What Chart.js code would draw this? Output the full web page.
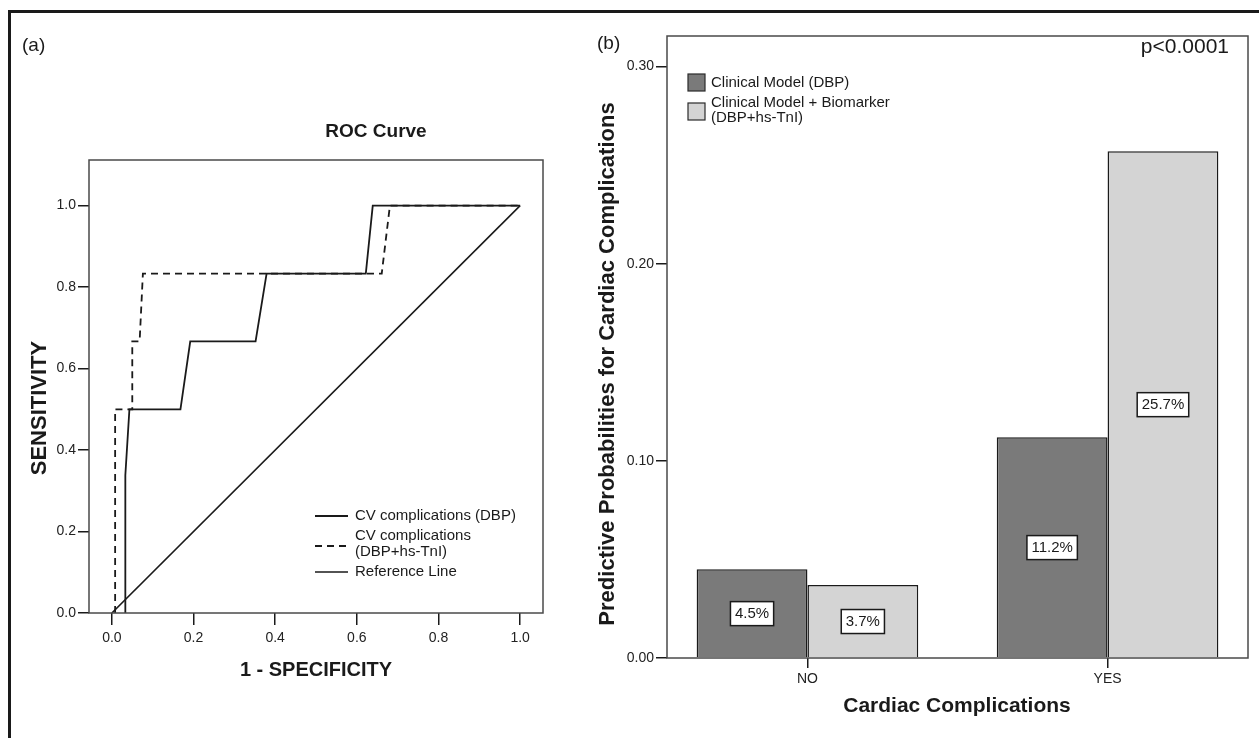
<!DOCTYPE html>
<html>
<head>
<meta charset="utf-8">
<title>ROC and predictive probabilities</title>
<script src="https://cdn.jsdelivr.net/npm/chart.js@4.4.1/dist/chart.umd.min.js"></script>
<style>
    html, body { margin: 0; padding: 0; background: #fff; }
    #wrap { position: relative; width: 1259px; height: 738px; overflow: hidden; }
    #frame {
        position: absolute; left: 8px; top: 10px; width: 1300px; height: 800px;
        border-top: 3px solid #1a1a1a; border-left: 3px solid #1a1a1a;
    }
    canvas { position: absolute; left: 0; top: 0; }
</style>
</head>
<body>
<div id="wrap">
    <div id="frame"></div>
    <canvas id="rocChart" width="1259" height="738" style="width:1259px;height:738px"></canvas>
    <canvas id="barChart" width="1259" height="738" style="width:1259px;height:738px"></canvas>
</div>
<script>
// ---- panel (a): ROC curve points ----
const dbpX = [0.033, 0.033, 0.043, 0.168, 0.192, 0.352, 0.379, 0.622, 0.639, 1.0];
const dbpY = [0.0, 0.338, 0.5, 0.5, 0.667, 0.667, 0.833, 0.833, 1.0, 1.0];
const tnIX = [0.008, 0.008, 0.05, 0.05, 0.068, 0.076, 0.661, 0.681, 1.0];
const tnIY = [0.0, 0.5, 0.5, 0.667, 0.667, 0.833, 0.833, 1.0, 1.0];
const refX = [0, 1];
const refY = [0, 1];
const rocTicks = [0, 0.2, 0.4, 0.6, 0.8, 1.0];
const rocLegend = [['CV complications (DBP)'], ['CV complications', '(DBP+hs-TnI)'], ['Reference Line']];

// ---- panel (b): predictive probabilities ----
const barCategories = ['NO', 'YES'];
const clinicalValues = [0.045, 0.112];
const biomarkerValues = [0.037, 0.257];
const barTicks = [0, 0.1, 0.2, 0.3];
const barLegend = [['Clinical Model (DBP)'], ['Clinical Model + Biomarker', '(DBP+hs-TnI)']];

const FONT = '"Liberation Sans", Arial, Helvetica, sans-serif';
const INK = '#1a1a1a';
const DARK_FILL = '#7a7a7a';
const LIGHT_FILL = '#d4d4d4';

Chart.defaults.font.family = FONT;
Chart.defaults.color = INK;
Chart.defaults.animation = false;

function toPoints(xs, ys) {
    return xs.map((x, i) => ({ x: x, y: ys[i] }));
}

function drawText(ctx, text, x, y, opts) {
    ctx.save();
    ctx.font = (opts.bold ? 'bold ' : '') + opts.size + 'px ' + FONT;
    ctx.fillStyle = INK;
    ctx.textAlign = opts.align || 'left';
    ctx.textBaseline = 'middle';
    ctx.translate(x, y);
    if (opts.rotate) ctx.rotate(opts.rotate);
    ctx.fillText(text, 0, 0);
    ctx.restore();
}

function strokeArea(chart) {
    const a = chart.chartArea;
    const ctx = chart.ctx;
    ctx.save();
    ctx.strokeStyle = '#4a4a4a';
    ctx.lineWidth = 1.5;
    ctx.strokeRect(a.left, a.top, a.right - a.left, a.bottom - a.top);
    ctx.restore();
}

const rocExtras = {
    id: 'rocExtras',
    afterDraw(chart) {
        const ctx = chart.ctx;
        strokeArea(chart);

        drawText(ctx, '(a)', 22, 46, { size: 19 });
        drawText(ctx, 'ROC Curve', 376, 132, { size: 19, bold: true, align: 'center' });
        drawText(ctx, '1 - SPECIFICITY', 316, 670, { size: 20, bold: true, align: 'center' });
        drawText(ctx, 'SENSITIVITY', 40, 408, { size: 22, bold: true, align: 'center', rotate: -Math.PI / 2 });

        // legend inside the plot, lower right
        const rows = [[516], [536, 552], [572]];
        const sampleY = [516, 546, 572];
        chart.data.datasets.forEach((ds, i) => {
            ctx.save();
            ctx.strokeStyle = ds.borderColor;
            ctx.lineWidth = ds.borderWidth;
            ctx.setLineDash(ds.borderDash || []);
            ctx.beginPath();
            ctx.moveTo(315, sampleY[i]);
            ctx.lineTo(348, sampleY[i]);
            ctx.stroke();
            ctx.restore();
            rocLegend[i].forEach((line, j) => {
                drawText(ctx, line, 355, rows[i][j], { size: 15 });
            });
        });
    }
};

const barExtras = {
    id: 'barExtras',
    afterDraw(chart) {
        const ctx = chart.ctx;
        const yScale = chart.scales.y;
        strokeArea(chart);

        // value boxes in the middle of each bar
        chart.data.datasets.forEach((ds, di) => {
            const meta = chart.getDatasetMeta(di);
            meta.data.forEach((bar, i) => {
                const v = ds.data[i].y;
                const label = (v * 100).toFixed(1) + '%';
                const cy = yScale.getPixelForValue(v / 2);
                ctx.save();
                ctx.font = '15px ' + FONT;
                const w = ctx.measureText(label).width + 9;
                const h = 24;
                ctx.fillStyle = '#fff';
                ctx.fillRect(bar.x - w / 2, cy - h / 2, w, h);
                ctx.strokeStyle = INK;
                ctx.lineWidth = 1.5;
                ctx.strokeRect(bar.x - w / 2, cy - h / 2, w, h);
                ctx.restore();
                drawText(ctx, label, bar.x, cy, { size: 15, align: 'center' });
            });
        });

        // legend, upper left
        const boxY = [74, 103];
        const rows = [[83], [103, 118]];
        chart.data.datasets.forEach((ds, i) => {
            ctx.save();
            ctx.fillStyle = ds.backgroundColor;
            ctx.fillRect(688, boxY[i], 17, 17);
            ctx.strokeStyle = '#2a2a2a';
            ctx.lineWidth = 1.2;
            ctx.strokeRect(688, boxY[i], 17, 17);
            ctx.restore();
            barLegend[i].forEach((line, j) => {
                drawText(ctx, line, 711, rows[i][j], { size: 15 });
            });
        });

        drawText(ctx, '(b)', 597, 44, { size: 19 });
        drawText(ctx, 'p<0.0001', 1229, 47, { size: 21, align: 'right' });
        drawText(ctx, 'Cardiac Complications', 957, 706, { size: 21, bold: true, align: 'center' });
        drawText(ctx, 'Predictive Probabilities for Cardiac Complications', 608, 364,
            { size: 22, bold: true, align: 'center', rotate: -Math.PI / 2 });
    }
};

function axisTicks(values) {
    return function(scale) {
        scale.ticks = values.map(v => ({ value: v }));
    };
}

const tickGrid = { drawOnChartArea: false, color: INK, lineWidth: 1.5, offset: false };

new Chart(document.getElementById('rocChart'), {
    type: 'line',
    data: {
        datasets: [
            { label: rocLegend[0].join(' '), data: toPoints(dbpX, dbpY), borderColor: INK, borderWidth: 1.8 },
            { label: rocLegend[1].join(' '), data: toPoints(tnIX, tnIY), borderColor: INK, borderWidth: 1.8, borderDash: [7, 5] },
            { label: rocLegend[2].join(' '), data: toPoints(refX, refY), borderColor: INK, borderWidth: 1.6 }
        ]
    },
    options: {
        responsive: false,
        animation: false,
        elements: { point: { radius: 0 }, line: { tension: 0, fill: false } },
        layout: { padding: { left: 29, top: 160, right: 716, bottom: 65 } },
        plugins: { legend: { display: false }, tooltip: { enabled: false } },
        scales: {
            x: {
                type: 'linear',
                min: -0.056,
                max: 1.056,
                afterBuildTicks: axisTicks(rocTicks),
                afterFit: s => { s.height = 60; },
                border: { display: false },
                grid: Object.assign({ tickLength: 12 }, tickGrid),
                ticks: { font: { size: 14 }, color: '#222', padding: 5, maxRotation: 0, autoSkip: false,
                    callback: v => v.toFixed(1) }
            },
            y: {
                type: 'linear',
                min: 0,
                max: 1.112,
                afterBuildTicks: axisTicks(rocTicks),
                afterFit: s => { s.width = 60; },
                border: { display: false },
                grid: Object.assign({ tickLength: 11 }, tickGrid),
                ticks: { font: { size: 14 }, color: '#222', padding: 2, autoSkip: false,
                    callback: v => v.toFixed(1) }
            }
        }
    },
    plugins: [rocExtras]
});

new Chart(document.getElementById('barChart'), {
    type: 'bar',
    data: {
        datasets: [
            {
                label: barLegend[0].join(' '),
                data: barCategories.map((c, i) => ({ x: i, y: clinicalValues[i] })),
                backgroundColor: DARK_FILL, borderColor: INK, borderWidth: 1.5,
                categoryPercentage: 0.7385, barPercentage: 1
            },
            {
                label: barLegend[1].join(' '),
                data: barCategories.map((c, i) => ({ x: i, y: biomarkerValues[i] })),
                backgroundColor: LIGHT_FILL, borderColor: INK, borderWidth: 1.5,
                categoryPercentage: 0.7385, barPercentage: 1
            }
        ]
    },
    options: {
        responsive: false,
        animation: false,
        layout: { padding: { left: 607, top: 36, right: 11, bottom: 30 } },
        plugins: { legend: { display: false }, tooltip: { enabled: false } },
        scales: {
            x: {
                type: 'linear',
                offset: false,
                min: -0.468,
                max: 1.468,
                afterBuildTicks: axisTicks(barCategories.map((c, i) => i)),
                afterFit: s => { s.height = 50; },
                border: { display: false },
                grid: Object.assign({ tickLength: 10 }, tickGrid),
                ticks: { font: { size: 14 }, color: '#222', padding: 3, maxRotation: 0, autoSkip: false,
                    callback: v => barCategories[v] }
            },
            y: {
                type: 'linear',
                min: 0,
                max: 0.3155,
                afterBuildTicks: axisTicks(barTicks),
                afterFit: s => { s.width = 60; },
                border: { display: false },
                grid: Object.assign({ tickLength: 11 }, tickGrid),
                ticks: { font: { size: 14 }, color: '#222', padding: 2, autoSkip: false,
                    callback: v => v.toFixed(2) }
            }
        }
    },
    plugins: [barExtras]
});
</script>
</body>
</html>
